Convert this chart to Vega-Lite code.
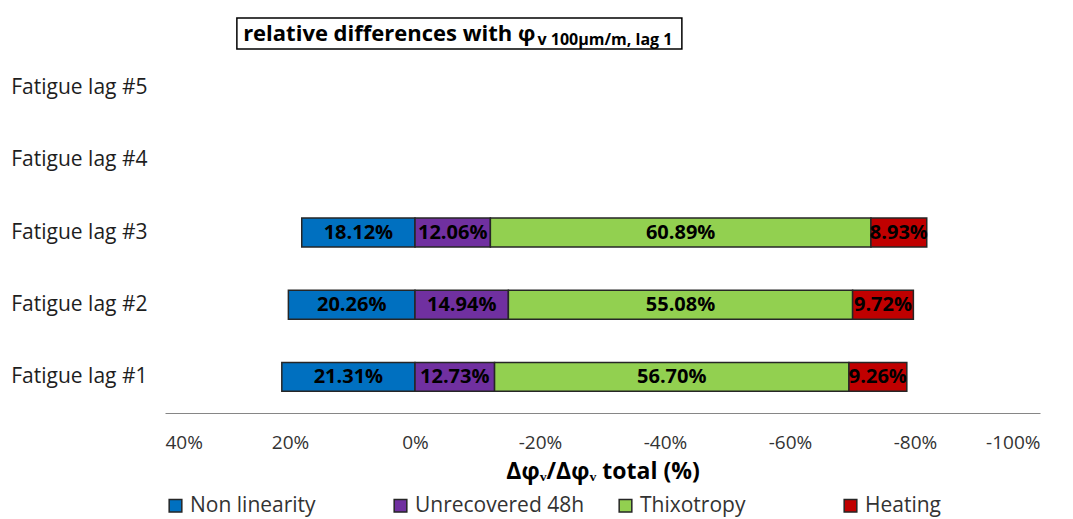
{
  "$schema": "https://vega.github.io/schema/vega-lite/v6.json",
  "padding": {"top": 17, "left": 10, "right": 8, "bottom": 4},
  "background": "white",
  "config": {"view": {"stroke": null}, "font": "Open Sans"},
  "spacing": 2,
  "resolve": {"scale": {"x": "independent"}},
  "vconcat": [
    {
      "width": 875,
      "height": 31,
      "data": {"values": [{}]},
      "layer": [
        {
          "mark": {"type": "rect", "fill": "white", "stroke": "black", "strokeWidth": 1.5},
          "encoding": {
            "x": {"datum": 28.5, "type": "quantitative", "scale": {"domain": [-100, 40], "reverse": true, "nice": false, "zero": false}, "axis": null},
            "x2": {"datum": -42.7}
          }
        },
        {
          "mark": {"type": "text", "align": "left", "baseline": "middle", "fontSize": 22, "fontWeight": "bold", "font": "Open Sans", "color": "black"},
          "encoding": {
            "x": {"datum": 27.5, "type": "quantitative"},
            "text": {"value": "relative differences with φ"}
          }
        },
        {
          "mark": {"type": "text", "align": "left", "baseline": "middle", "fontSize": 16, "fontWeight": "bold", "font": "Open Sans", "color": "black", "dy": 6},
          "encoding": {
            "x": {"datum": -19.6, "type": "quantitative"},
            "text": {"value": "v 100µm/m, lag 1"}
          }
        }
      ]
    },
    {
      "width": 875,
      "height": 361,
      "data": {
        "values": [
          {"lag": "Fatigue lag #1", "category": "Non linearity", "value": 21.31},
          {"lag": "Fatigue lag #1", "category": "Unrecovered 48h", "value": -12.73},
          {"lag": "Fatigue lag #1", "category": "Thixotropy", "value": -56.70},
          {"lag": "Fatigue lag #1", "category": "Heating", "value": -9.26},
          {"lag": "Fatigue lag #2", "category": "Non linearity", "value": 20.26},
          {"lag": "Fatigue lag #2", "category": "Unrecovered 48h", "value": -14.94},
          {"lag": "Fatigue lag #2", "category": "Thixotropy", "value": -55.08},
          {"lag": "Fatigue lag #2", "category": "Heating", "value": -9.72},
          {"lag": "Fatigue lag #3", "category": "Non linearity", "value": 18.12},
          {"lag": "Fatigue lag #3", "category": "Unrecovered 48h", "value": -12.06},
          {"lag": "Fatigue lag #3", "category": "Thixotropy", "value": -60.89},
          {"lag": "Fatigue lag #3", "category": "Heating", "value": -8.93}
        ]
      },
      "transform": [
        {"calculate": "indexof(['Non linearity','Unrecovered 48h','Thixotropy','Heating'], datum.category)", "as": "order"},
        {"stack": "value", "groupby": ["lag"], "sort": [{"field": "order", "order": "ascending"}], "offset": "zero", "as": ["v0", "v1"]},
        {"calculate": "(datum.v0 + datum.v1) / 2", "as": "mid"},
        {"calculate": "format(abs(datum.value), '.2f') + '%'", "as": "label"}
      ],
      "encoding": {
        "y": {
          "field": "lag", "type": "nominal",
          "scale": {"domain": ["Fatigue lag #5", "Fatigue lag #4", "Fatigue lag #3", "Fatigue lag #2", "Fatigue lag #1"], "paddingInner": 0.6, "paddingOuter": 0.3},
          "axis": {"title": null, "domain": false, "ticks": false, "labelFontSize": 21, "labelColor": "#1e1e1e", "labelPadding": 18, "minExtent": 155, "maxExtent": 155, "labelFont": "Open Sans"}
        }
      },
      "layer": [
        {
          "mark": {"type": "bar", "stroke": "#262626", "strokeWidth": 1.5},
          "encoding": {
            "x": {
              "field": "v0", "type": "quantitative",
              "scale": {"domain": [-100, 40], "reverse": true, "nice": false, "zero": false},
              "axis": {
                "values": [-100, -80, -60, -40, -20, 0, 20, 40],
                "labelExpr": "datum.value + '%'",
                "grid": false, "ticks": false,
                "domainColor": "#868686", "domainWidth": 1,
                "labelFontSize": 19, "labelColor": "#333333", "labelPadding": 20,
                "labelFont": "Open Sans",
                "title": "Δφᵥ/Δφᵥ total (%)",
                "titleFontSize": 23, "titleFontWeight": "bold", "titleColor": "black", "titlePadding": 8,
                "titleFont": "Open Sans"
              }
            },
            "x2": {"field": "v1"},
            "color": {
              "field": "category", "type": "nominal",
              "scale": {"domain": ["Non linearity", "Unrecovered 48h", "Thixotropy", "Heating"], "range": ["#0070C0", "#7030A0", "#92D050", "#C00000"]},
              "legend": {
                "orient": "bottom", "direction": "horizontal", "title": null, "columns": 4,
                "symbolType": "square", "symbolSize": 160, "symbolStrokeColor": "#262626", "symbolStrokeWidth": 1.5,
                "labelFontSize": 21, "labelColor": "#333333", "labelFont": "Open Sans", "labelOffset": 4, "labelLimit": 300,
                "gridAlign": "all", "columnPadding": 30, "offset": 12
              }
            }
          }
        },
        {
          "mark": {"type": "rule", "color": "black", "strokeWidth": 1.5, "strokeDash": [5, 4]},
          "encoding": {"x": {"datum": 0, "type": "quantitative"}}
        },
        {
          "mark": {"type": "text", "fontSize": 20, "fontWeight": "bold", "color": "black", "font": "Open Sans", "baseline": "middle"},
          "encoding": {
            "x": {"field": "mid", "type": "quantitative"},
            "text": {"field": "label"}
          }
        }
      ]
    }
  ]
}
